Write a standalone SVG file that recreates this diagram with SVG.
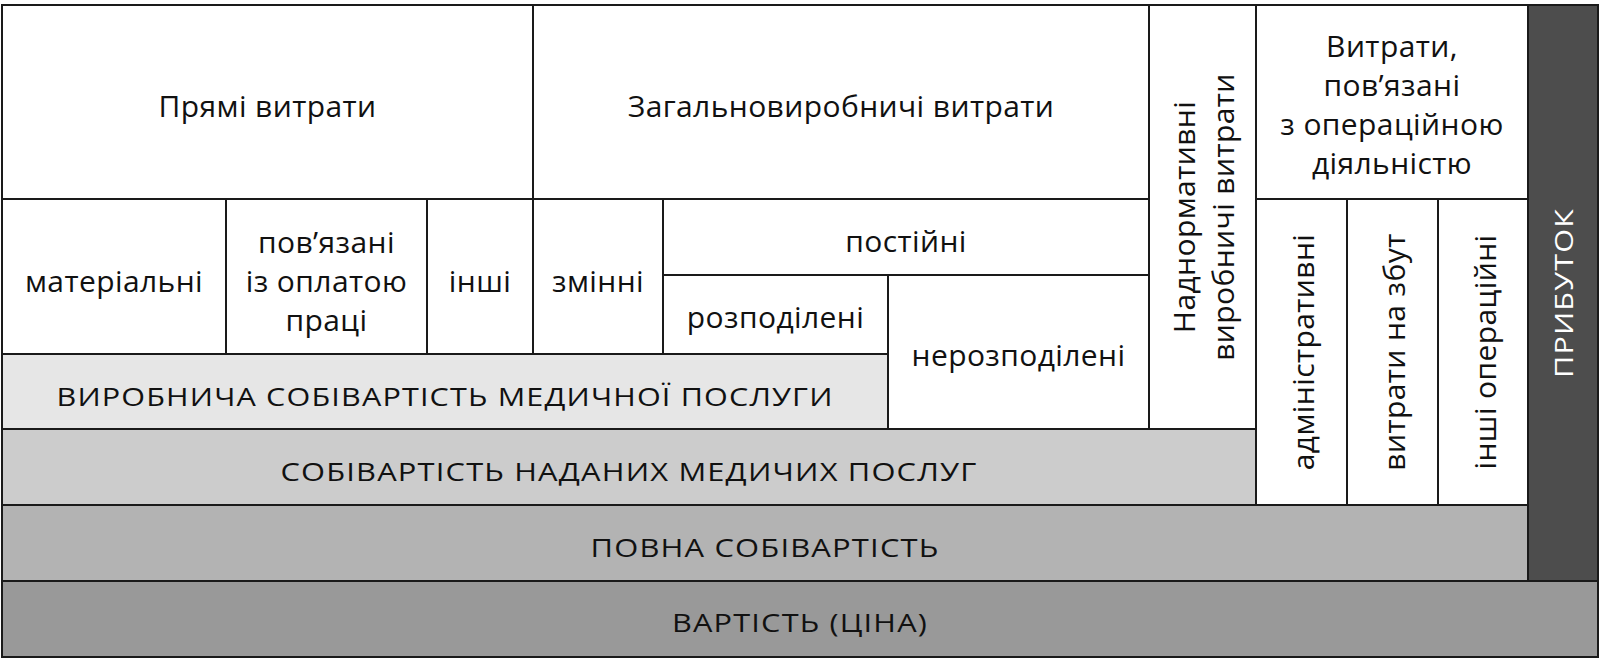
<svg xmlns="http://www.w3.org/2000/svg" width="1600" height="660" viewBox="0 0 1600 660">
<style>
.c{stroke:#1a1a1a;stroke-width:2;fill:#ffffff}
.g1{fill:#e6e6e6}
.g2{fill:#cccccc}
.g3{fill:#b3b3b3}
.g4{fill:#999999}
.dk{fill:#4d4d4d}
.t{font-family:"Open Sans","Liberation Sans",sans-serif;font-size:30px;font-weight:500;letter-spacing:0.4px;fill:#111111;text-anchor:middle}
.u{font-size:26px;letter-spacing:1px}
.w{fill:#ffffff}
</style>
<rect x="0" y="0" width="1600" height="660" fill="#ffffff"/>
<g id="vartist">
<rect class="c g4" x="2" y="581" width="1596" height="76"/>
<text class="t u" x="800" y="632" textLength="256" lengthAdjust="spacingAndGlyphs">ВАРТІСТЬ (ЦІНА)</text>
</g>
<g id="povna">
<rect class="c g3" x="2" y="505" width="1526" height="76"/>
<text class="t u" x="765" y="557" textLength="349" lengthAdjust="spacingAndGlyphs">ПОВНА СОБІВАРТІСТЬ</text>
</g>
<g id="prybutok">
<rect class="c dk" x="1528" y="5" width="70" height="576"/>
<text class="t u w" transform="translate(1573,293) rotate(-90)" x="0" y="0" textLength="170" lengthAdjust="spacingAndGlyphs">ПРИБУТОК</text>
</g>
<g id="sobivartist-nadanykh">
<rect class="c g2" x="2" y="429" width="1254" height="76"/>
<text class="t u" x="629" y="481" textLength="697" lengthAdjust="spacingAndGlyphs">СОБІВАРТІСТЬ НАДАНИХ МЕДИЧИХ ПОСЛУГ</text>
</g>
<g id="vyrobnycha">
<rect class="c g1" x="2" y="354" width="886" height="75"/>
<text class="t u" x="445" y="406" textLength="777" lengthAdjust="spacingAndGlyphs">ВИРОБНИЧА СОБІВАРТІСТЬ МЕДИЧНОЇ ПОСЛУГИ</text>
</g>
<g id="priami">
<rect class="c" x="2" y="5" width="531" height="194"/>
<text class="t" x="267.5" y="117">Прямі витрати</text>
</g>
<g id="zagalno">
<rect class="c" x="533" y="5" width="616" height="194"/>
<text class="t" x="841" y="117">Загальновиробничі витрати</text>
</g>
<g id="nadnorm">
<rect class="c" x="1149" y="5" width="107" height="424"/>
<text class="t" transform="translate(1195,217) rotate(-90)" x="0" y="0">Наднормативні</text>
<text class="t" transform="translate(1234,217) rotate(-90)" x="0" y="0">виробничі витрати</text>
</g>
<g id="operatsiini">
<rect class="c" x="1256" y="5" width="272" height="194"/>
<text class="t" x="1392" y="57">Витрати,</text>
<text class="t" x="1392" y="96">пов’язані</text>
<text class="t" x="1392" y="135">з операційною</text>
<text class="t" x="1392" y="174">діяльністю</text>
</g>
<g id="materialni">
<rect class="c" x="2" y="199" width="224" height="155"/>
<text class="t" x="114" y="292">матеріальні</text>
</g>
<g id="oplata">
<rect class="c" x="226" y="199" width="201" height="155"/>
<text class="t" x="326.5" y="253">пов’язані</text>
<text class="t" x="326.5" y="292">із оплатою</text>
<text class="t" x="326.5" y="331">праці</text>
</g>
<g id="inshi">
<rect class="c" x="427" y="199" width="106" height="155"/>
<text class="t" x="480" y="292">інші</text>
</g>
<g id="zminni">
<rect class="c" x="533" y="199" width="130" height="155"/>
<text class="t" x="598" y="292">змінні</text>
</g>
<g id="postiini">
<rect class="c" x="663" y="199" width="486" height="76"/>
<text class="t" x="906" y="252">постійні</text>
</g>
<g id="rozpodileni">
<rect class="c" x="663" y="275" width="225" height="79"/>
<text class="t" x="775.5" y="328">розподілені</text>
</g>
<g id="nerozpodileni">
<rect class="c" x="888" y="275" width="261" height="154"/>
<text class="t" x="1018.5" y="366">нерозподілені</text>
</g>
<g id="admin">
<rect class="c" x="1256" y="199" width="91" height="306"/>
<text class="t" transform="translate(1314,352) rotate(-90)" x="0" y="0">адміністративні</text>
</g>
<g id="zbut">
<rect class="c" x="1347" y="199" width="91" height="306"/>
<text class="t" transform="translate(1405,352) rotate(-90)" x="0" y="0">витрати на збут</text>
</g>
<g id="inshi-operatsiini">
<rect class="c" x="1438" y="199" width="90" height="306"/>
<text class="t" transform="translate(1496,352) rotate(-90)" x="0" y="0">інші операційні</text>
</g>
<g id="connectors"></g>
</svg>
